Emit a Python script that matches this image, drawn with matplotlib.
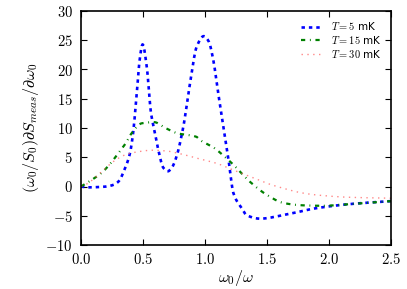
import numpy as np
import matplotlib
matplotlib.use('Agg')
import matplotlib.pyplot as plt
from matplotlib.ticker import FuncFormatter

# values
x_5mK = [0.0, 0.05, 0.18, 0.25, 0.30, 0.355, 0.395, 0.42, 0.45, 0.475, 0.497, 0.53, 0.565,
         0.597, 0.624, 0.664, 0.70, 0.735, 0.77, 0.825, 0.879, 0.933, 0.99, 1.03, 1.067, 1.107,
         1.148, 1.19, 1.23, 1.296, 1.336, 1.444, 1.63, 1.90, 2.17, 2.5]
y_5mK = [0.0, -0.15, -0.05, 0.2, 0.8, 3.1, 5.7, 9.1, 16.0, 22.0, 24.3, 20.5, 12.5,
         9.1, 6.2, 3.2, 2.6, 3.3, 5.1, 10.2, 17.6, 23.9, 25.7, 24.8, 21.6, 15.9,
         10.2, 4.5, -1.2, -3.7, -4.9, -5.5, -4.9, -3.7, -3.0, -2.5]

x_15mK = [0.0, 0.073, 0.167, 0.239, 0.30, 0.36, 0.408, 0.489, 0.589, 0.685, 0.777,
          0.93, 0.96, 1.067, 1.148, 1.23, 1.363, 1.50, 1.63, 1.77, 1.95, 2.17, 2.5]
y_15mK = [0.0, 0.94, 2.36, 3.97, 5.67, 7.38, 9.1, 10.8, 11.0, 9.95, 9.1,
          8.5, 7.95, 6.7, 5.3, 3.7, 0.8, -1.45, -2.8, -3.2, -3.3, -3.0, -2.5]

x_30mK = [0.0, 0.046, 0.153, 0.26, 0.355, 0.462, 0.57, 0.69, 0.785, 0.96, 1.094, 1.23,
          1.363, 1.50, 1.63, 1.77, 1.90, 2.17, 2.5]
y_30mK = [0.0, 0.43, 2.25, 4.25, 5.4, 5.95, 6.2, 6.07, 5.67, 4.7, 3.96, 2.8,
          1.7, 0.55, -0.3, -1.05, -1.45, -1.85, -2.0]

labels = [r'$T = 5$ mK', r'$T = 15$ mK', r'$T = 30$ mK']

plt.rcParams['mathtext.fontset'] = 'cm'
plt.rcParams['xtick.direction'] = 'in'
plt.rcParams['ytick.direction'] = 'in'

fig = plt.figure(figsize=(4.07, 2.89), dpi=100)
ax = fig.add_axes([81 / 407, 1 - 245 / 289, 310 / 407, 234 / 289])


def pchip(xs, ys, n=500):
    # shape-preserving cubic through the read points, used only for drawing
    xs = np.asarray(xs, float)
    ys = np.asarray(ys, float)
    h = np.diff(xs)
    d = np.diff(ys) / h
    m = np.zeros_like(ys)
    for k in range(1, len(xs) - 1):
        if d[k - 1] * d[k] > 0:
            w1 = 2 * h[k] + h[k - 1]
            w2 = h[k] + 2 * h[k - 1]
            m[k] = (w1 + w2) / (w1 / d[k - 1] + w2 / d[k])
    m[0] = d[0]
    m[-1] = d[-1]
    xx = np.linspace(xs[0], xs[-1], n)
    i = np.clip(np.searchsorted(xs, xx) - 1, 0, len(xs) - 2)
    t = (xx - xs[i]) / h[i]
    yy = ((2 * t**3 - 3 * t**2 + 1) * ys[i] + (t**3 - 2 * t**2 + t) * h[i] * m[i]
          + (-2 * t**3 + 3 * t**2) * ys[i + 1] + (t**3 - t**2) * h[i] * m[i + 1])
    return xx, yy


xx, yy = pchip(x_5mK, y_5mK)
ax.plot(xx, yy, color='blue', lw=1.9, dashes=(1.3, 1.5), label=labels[0])
xx, yy = pchip(x_15mK, y_15mK)
ax.plot(xx, yy, color='green', lw=1.6, dashes=(1.9, 2.1, 0.4, 2.1), label=labels[1])
xx, yy = pchip(x_30mK, y_30mK)
ax.plot(xx, yy, color='#ff6a6a', lw=1.0, alpha=0.8, dashes=(1.0, 3.2), label=labels[2])

ax.set_xlim(0, 2.5)
ax.set_ylim(-10, 30)
ax.set_xticks(np.arange(0, 2.51, 0.5))
ax.set_yticks(np.arange(-10, 31, 5))
ax.xaxis.set_major_formatter(FuncFormatter(lambda v, p: r'$%.1f$' % v))
ax.yaxis.set_major_formatter(FuncFormatter(lambda v, p: r'$%d$' % round(v)))
ax.tick_params(top=True, right=True, length=4.5, width=0.8, labelsize=10.5)
ax.tick_params(axis='y', pad=6)
ax.tick_params(axis='x', pad=5)
for s in ax.spines.values():
    s.set_linewidth(1.2)

ax.set_xlabel(r'$\omega_0/\omega$', fontsize=11.5, labelpad=1)
ax.set_ylabel(r'$(\omega_0/S_0)\partial S_{meas}/\partial\omega_0$', fontsize=11.5, labelpad=3)

ax.legend(loc='upper right', frameon=False, fontsize=7.5, handlelength=2.0,
          handletextpad=0.9, labelspacing=0.15, borderaxespad=0.5)

fig.savefig('out.png', dpi=100)
